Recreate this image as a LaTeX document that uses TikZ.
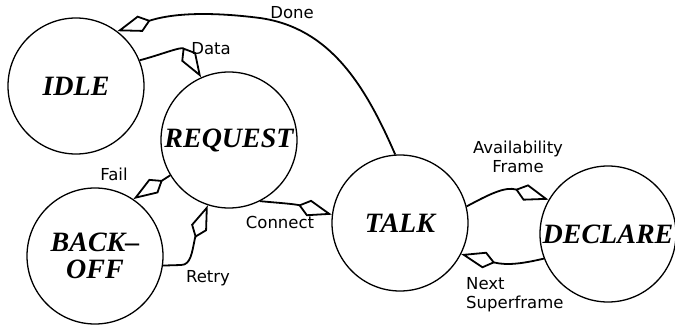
\documentclass[tikz,border=0pt]{standalone}
\usepackage{fontspec}
\setmainfont{Liberation Serif}
\newfontfamily\lblfont{DejaVu Sans}
\usetikzlibrary{arrows.meta}
\begin{document}
\begin{tikzpicture}[x=1pt,y=-1pt,
  state/.style={circle,draw,line width=1.3pt,minimum size=136pt,inner sep=0pt,
    font=\fontsize{28}{30}\selectfont\bfseries\itshape,align=center},
  trans/.style={line width=1.8pt,-{Kite[open,length=35pt,width=17pt,inset=11pt]}},
  lbl/.style={font=\fontsize{16.5}{19}\selectfont\lblfont,inner sep=0pt}]
\useasboundingbox (0,0) rectangle (675,330);
\node[state] (idle) at (76,86) {IDLE};
\node[state] (request) at (229,140) {REQUEST};
\node[state] (backoff) at (95,256) {BACK–\\[-3pt]OFF};
\node[state] (talk) at (400,223) {TALK};
\node[state] (declare) at (608,234) {DECLARE};

\draw[trans] (talk.94) .. controls (365,85) and (330,28) .. (260,18)
  .. controls (205,11) and (170,14) .. (idle.53);
\draw[trans] (idle.22) .. controls (160,55) and (182,46) .. (request.114);
\draw[trans] (request.211) -- (backoff.56);
\draw[trans] (backoff.-8) -- (181,265) .. controls (191,265) and (192,252) .. (195,238) -- (request.252);
\draw[trans] (request.297) .. controls (280,203) and (295,204) .. (talk.173);
\draw[trans] (talk.14) .. controls (488,195) and (505,186) .. (declare.150);
\draw[trans] (declare.201) .. controls (525,263) and (508,266) .. (talk.333);

\node[lbl] (ldone) at (292,13) {Done};
\node[lbl] (ldata) at (211,49) {Data};
\node[lbl] (lfail) at (114,174) {Fail};
\node[lbl] (lconnect) at (280,222) {Connect};
\node[lbl] (lretry) at (208,278) {Retry};
\node[lbl,align=center] (lavail) at (518,157) {Availability\\Frame};
\node[lbl,align=left,anchor=west] (lnext) at (466,295) {Next\\Superframe};
\end{tikzpicture}
\end{document}
